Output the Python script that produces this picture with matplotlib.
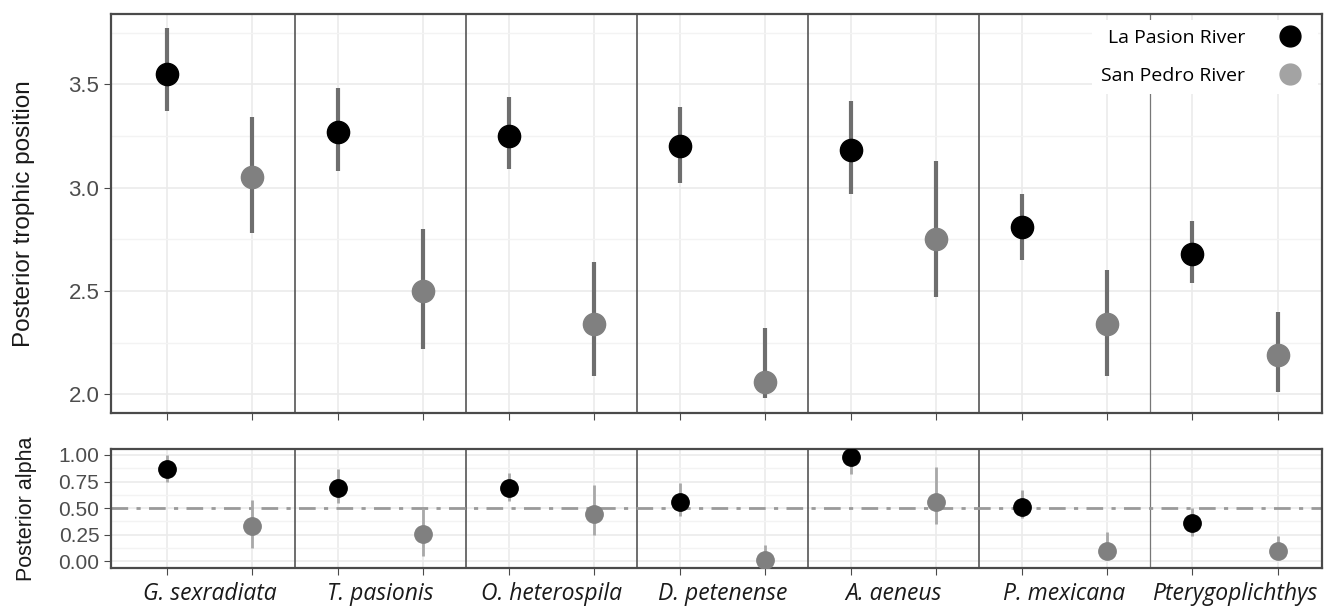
import matplotlib
matplotlib.use("Agg")
import matplotlib.pyplot as plt
from matplotlib.lines import Line2D
import numpy as np

species = ["G. sexradiata", "T. pasionis", "O. heterospila", "D. petenense",
           "A. aeneus", "P. mexicana", "Pterygoplichthys"]

# posterior trophic position: median, lower, upper
tp_lp = [3.55, 3.27, 3.25, 3.20, 3.18, 2.81, 2.68]
tp_lp_lo = [3.37, 3.08, 3.09, 3.02, 2.97, 2.65, 2.54]
tp_lp_hi = [3.77, 3.48, 3.44, 3.39, 3.42, 2.97, 2.84]
tp_sp = [3.05, 2.50, 2.34, 2.06, 2.75, 2.34, 2.19]
tp_sp_lo = [2.78, 2.22, 2.09, 1.98, 2.47, 2.09, 2.01]
tp_sp_hi = [3.34, 2.80, 2.64, 2.32, 3.13, 2.60, 2.40]

# posterior alpha: median, lower, upper
al_lp = [0.87, 0.69, 0.69, 0.56, 0.98, 0.51, 0.36]
al_lp_lo = [0.75, 0.55, 0.57, 0.43, 0.82, 0.41, 0.24]
al_lp_hi = [1.00, 0.87, 0.83, 0.74, 1.00, 0.67, 0.50]
al_sp = [0.33, 0.26, 0.45, 0.01, 0.56, 0.10, 0.10]
al_sp_lo = [0.13, 0.05, 0.25, 0.00, 0.35, 0.02, 0.03]
al_sp_hi = [0.58, 0.50, 0.72, 0.15, 0.89, 0.28, 0.24]

LP_COL = "black"
SP_COL = "#808080"
GRID = "#ebebeb"

n = len(species)
x_lp = np.arange(n) * 2
x_sp = x_lp + 1
centers = x_lp + 0.5
seps = x_lp[1:] - 0.5

fig = plt.figure(figsize=(13.43, 6.08), dpi=100)
ax1 = fig.add_axes([0.0827, 0.321, 0.9013, 0.656])
ax2 = fig.add_axes([0.0827, 0.066, 0.9013, 0.1955])


def style(ax, ticksize):
    ax.set_xlim(-0.655, 13.51)
    ax.set_xticks(np.arange(2 * n))
    ax.set_xticklabels([])
    ax.grid(True, which="major", color=GRID, lw=1.2, zorder=0)
    ax.grid(True, which="minor", axis="y", color="#f3f3f3", lw=1.0, zorder=0)
    ax.set_axisbelow(True)
    for s in ax.spines.values():
        s.set_color("#4a4a4a")
        s.set_linewidth(1.6)
    ax.tick_params(axis="both", which="major", direction="out", length=5,
                   color="#4a4a4a", labelcolor="#4d4d4d", labelsize=ticksize,
                   labelfontfamily="Liberation Sans")
    ax.tick_params(axis="x", which="minor", length=0)
    for i, s in enumerate(seps):
        ax.axvline(s, color="#555555" if i < len(seps) - 1 else "#777777",
                   lw=1.2 if i < len(seps) - 1 else 0.9, zorder=1)


# top panel
style(ax1, 16)
ax1.set_ylim(1.91, 3.84)
ax1.set_yticks([2.0, 2.5, 3.0, 3.5])
ax1.set_yticks([2.25, 2.75, 3.25, 3.75], minor=True)
ax1.tick_params(axis="y", which="minor", length=0)
ax1.vlines(x_lp, tp_lp_lo, tp_lp_hi, color="#6e6e6e", lw=3, zorder=2)
ax1.vlines(x_sp, tp_sp_lo, tp_sp_hi, color="#6e6e6e", lw=3, zorder=2)
ax1.plot(x_lp, tp_lp, "o", color=LP_COL, ms=16, zorder=3)
ax1.plot(x_sp, tp_sp, "o", color=SP_COL, ms=16, zorder=3)
ax1.set_ylabel("Posterior trophic position", fontsize=17.5,
               family="Liberation Sans", color="#1a1a1a")
ax1.yaxis.set_label_coords(-0.063, 0.5)

handles = [Line2D([], [], ls="", marker="o", ms=15, color=LP_COL),
           Line2D([], [], ls="", marker="o", ms=15, color="#a3a3a3")]
leg = ax1.legend(handles, ["La Pasion River", "San Pedro River"],
                 loc="upper right", bbox_to_anchor=(0.997, 0.985),
                 markerfirst=False, frameon=True, framealpha=1,
                 edgecolor="none", facecolor="white", fancybox=False,
                 prop={"family": "Open Sans", "size": 14}, labelspacing=1.05,
                 handletextpad=1.3, borderpad=0.45, borderaxespad=0.0)
leg.set_zorder(5)

# bottom panel
style(ax2, 15)
ax2.set_ylim(-0.06, 1.055)
ax2.set_yticks([0.0, 0.25, 0.5, 0.75, 1.0])
ax2.set_yticklabels(["0.00", "0.25", "0.50", "0.75", "1.00"])
ax2.set_yticks([0.125, 0.375, 0.625, 0.875], minor=True)
ax2.tick_params(axis="y", which="minor", length=0)
ax2.axhline(0.5, color="#9a9a9a", lw=2, ls=(0, (6, 3, 1.5, 3)), zorder=2)
ax2.vlines(x_lp, al_lp_lo, al_lp_hi, color="#a8a8a8", lw=2, zorder=2)
ax2.vlines(x_sp, al_sp_lo, al_sp_hi, color="#a8a8a8", lw=2, zorder=2)
ax2.plot(x_lp, al_lp, "o", color=LP_COL, ms=12.5, zorder=3)
ax2.plot(x_sp, al_sp, "o", color=SP_COL, ms=12.5, zorder=3)
ax2.set_ylabel("Posterior alpha", fontsize=15.5, family="Liberation Sans",
               color="#1a1a1a")
ax2.yaxis.set_label_coords(-0.061, 0.5)
ax2.set_xticks(centers, minor=True)
ax2.set_xticklabels(species, minor=True, fontstyle="italic",
                    family="Open Sans", fontsize=16.5, color="#1a1a1a")
ax2.tick_params(axis="x", which="minor", pad=10)

fig.savefig("out.png", dpi=100)
